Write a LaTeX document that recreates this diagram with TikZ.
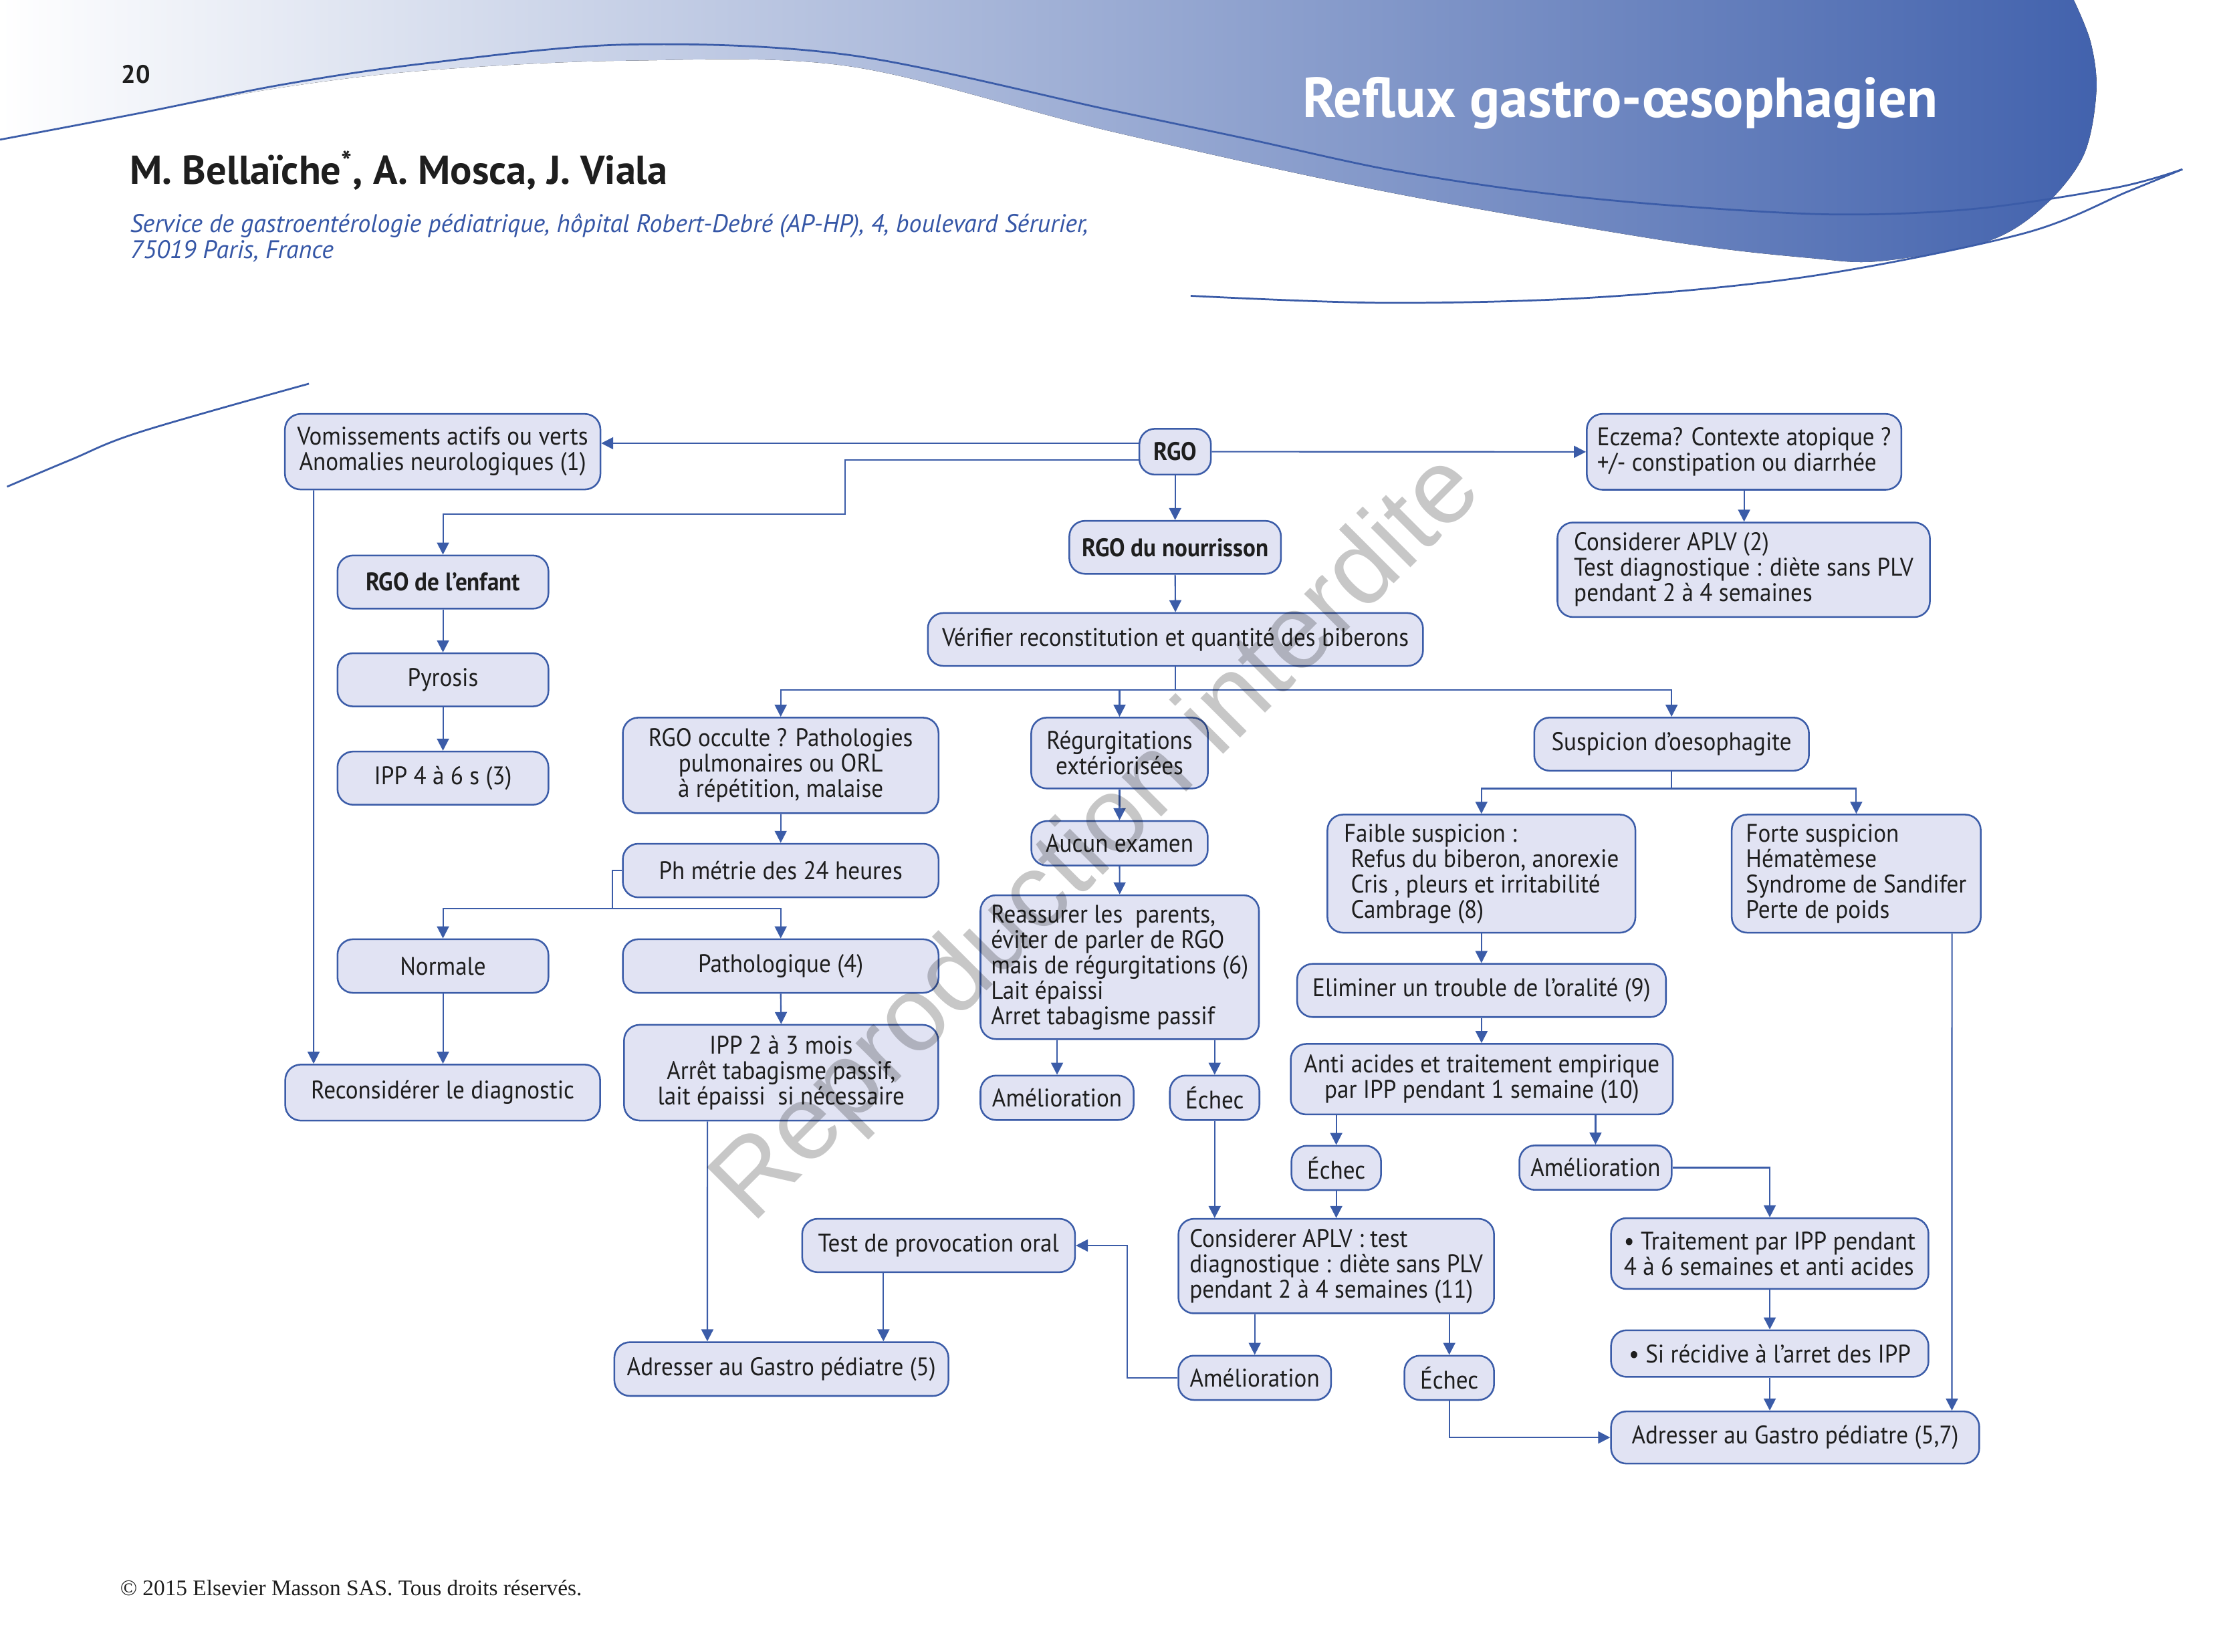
\documentclass[tikz,border=0pt]{standalone}
\usepackage{fontspec}
\setmainfont{PT Sans}[FakeStretch=0.925]
\newfontfamily\hdrfont{PT Sans}
\newfontfamily\footfont{Liberation Serif}
\newfontfamily\wmfont{Liberation Sans}
\usetikzlibrary{arrows.meta}
\definecolor{boxfill}{HTML}{E1E3F3}
\definecolor{boxline}{HTML}{3B5CA8}
\definecolor{lineblue}{HTML}{3B5CA8}
\definecolor{hdrblue}{HTML}{4262AD}
\definecolor{affil}{HTML}{3556A6}
\definecolor{txt}{HTML}{1E1E1E}
\begin{document}
\begin{tikzpicture}[x=1pt,y=-1pt,
  box/.style={draw=boxline, fill=boxfill, line width=1.2pt, rounded corners=11pt, inner sep=0pt,
    align=center, text=txt, font=\fontsize{18}{18}\selectfont},
  lbox/.style={box, align=left},
  sz/.style 2 args={minimum width=#1pt, minimum height=#2pt},
  conn/.style={draw=lineblue, line width=1pt, -{Triangle[length=8.5pt,width=8.5pt]}},
  plainline/.style={draw=lineblue, line width=1pt},
  hdrline/.style={draw=lineblue, line width=1.3pt}]
\useasboundingbox (0,0) rectangle (1568.7,1170.6);
\fill[white] (0,0) rectangle (1568.7,1170.6);
% header band
\fill[left color=white, right color=hdrblue] (0,0) -- plot[smooth, tension=0.55] coordinates {(0,99) (100,80) (200,62) (301,50) (444,43) (602,47) (787,93) (983,136) (1183,171) (1284,183) (1334,185) (1409,171) (1449,146) (1477,110) (1486,65) (1482,30) (1470,0)} -- cycle;
\draw[hdrline] plot[smooth, tension=0.55] coordinates {(0,99) (100,80) (200,60) (301,45) (444,31.6) (602,39) (787,78) (882,98) (983,120) (1083,135.5) (1183,145.5) (1300,152) (1400,148) (1500,133) (1547,120)};
\draw[hdrline] plot[smooth, tension=0.55] coordinates {(844,209.7) (983,214.7) (1133,210.7) (1284,195.7) (1434,165.6) (1509,135.5) (1547,120)};
\draw[hdrline] plot[smooth, tension=0.6] coordinates {(5,345) (50,326) (100,306) (219,272)};
\node[anchor=base west, inner sep=0pt, font=\hdrfont\bfseries\fontsize{18}{18}\selectfont, text=txt] (pnum) at (86,59) {20};
\node[anchor=base west, inner sep=0pt, font=\hdrfont\bfseries\fontsize{40}{40}\selectfont, text=white] (title) at (923,83) {Reflux gastro-œsophagien};
\node[anchor=base west, inner sep=0pt, font=\hdrfont\bfseries\fontsize{28.6}{29}\selectfont, text=txt] (auth) at (92,130.4) {M. Bellaïche\textsuperscript{*}, A. Mosca, J. Viala};
\node[anchor=base west, inner sep=0pt, font=\hdrfont\itshape\fontsize{18}{18}\selectfont, text=affil] (aff1) at (92,164.6) {Service de gastroentérologie pédiatrique, hôpital Robert-Debré (AP-HP), 4, boulevard Sérurier,};
\node[anchor=base west, inner sep=0pt, font=\hdrfont\itshape\fontsize{18}{18}\selectfont, text=affil] (aff2) at (92,183) {75019 Paris, France};
\node[anchor=base west, inner sep=0pt, font=\footfont\fontsize{15.8}{16}\selectfont, text=txt] (foot) at (85,1131) {© 2015 Elsevier Masson SAS. Tous droits réservés.};
% boxes
\node[box, sz={223.6}{53.5}] (vom) at (313.8,320.2) {Vomissements actifs ou verts\\Anomalies neurologiques (1)};
\node[box, sz={50.7}{32.5}, font=\bfseries\fontsize{18}{18}\selectfont] (rgo) at (833,320.2) {RGO};
\node[lbox, sz={223}{53.7}] (ecz) at (1236.3,320.3) {Eczema? Contexte atopique ?\\+/- constipation ou diarrhée};
\node[lbox, sz={264}{67}] (aplv2) at (1236,403.9) {Considerer APLV (2)\\Test diagnostique : diète sans PLV\\pendant 2 à 4 semaines};
\node[box, sz={150}{37.5}, font=\bfseries\fontsize{18}{18}\selectfont] (rgonour) at (833,388) {RGO du nourrisson};
\node[box, sz={351}{37.5}] (verif) at (833.2,453.3) {Vérifier reconstitution et quantité des biberons};
\node[box, sz={149.5}{37.7}, font=\bfseries\fontsize{18}{18}\selectfont] (rgoenf) at (314,412.6) {RGO de l’enfant};
\node[box, sz={149.5}{37.7}] (pyrosis) at (314,481.9) {Pyrosis};
\node[box, sz={149.5}{37.7}] (ipp46) at (314,551.6) {IPP 4 à 6 s (3)};
\node[box, sz={223.8}{67.8}] (occulte) at (553.4,542.6) {RGO occulte ? Pathologies\\pulmonaires ou ORL\\à répétition, malaise};
\node[box, sz={125.2}{50.2}] (regurg) at (793.6,533.8) {Régurgitations\\extériorisées};
\node[box, sz={194.7}{37.7}] (suspoes) at (1184.9,527.5) {Suspicion d’oesophagite};
\node[box, sz={223.8}{38}] (phmetrie) at (553.4,617.1) {Ph métrie des 24 heures};
\node[box, sz={125}{31.5}] (aucun) at (793.6,597.8) {Aucun examen};
\node[lbox, sz={218.3}{83.7}] (faible) at (1050.1,619.3) {Faible suspicion :\\\hspace*{5pt}Refus du biberon, anorexie\\\hspace*{5pt}Cris , pleurs et irritabilité\\\hspace*{5pt}Cambrage (8)};
\node[lbox, sz={176.5}{83.7}] (forte) at (1315.8,619.3) {Forte suspicion\\Hématèmese\\Syndrome de Sandifer\\Perte de poids};
\node[box, sz={149.5}{38}] (normale) at (314,684.8) {Normale};
\node[box, sz={223.8}{38}] (patho) at (553.4,684.8) {Pathologique (4)};
\node[lbox, sz={197.4}{102}] (reassurer) at (793.7,685.6) {Reassurer les\ \ parents,\\éviter de parler de RGO\\mais de régurgitations (6)\\Lait épaissi\\Arret tabagisme passif};
\node[box, sz={261.4}{37.7}] (elim) at (1050.2,702.1) {Eliminer un trouble de l’oralité (9)};
\node[box, sz={223.2}{39.7}] (reconsid) at (313.8,774.5) {Reconsidérer le diagnostic};
\node[box, sz={222.7}{67.8}] (ipp23) at (553.7,760.4) {IPP 2 à 3 mois\\Arrêt tabagisme passif,\\lait épaissi\ \ si nécessaire};
\node[box, sz={108.6}{31.5}] (amel1) at (749.3,778.2) {Amélioration};
\node[box, sz={63.5}{31.5}] (echec1) at (861,778.2) {Échec};
\node[box, sz={270.9}{50}] (antiac) at (1050.4,765) {Anti acides et traitement empirique\\par IPP pendant 1 semaine (10)};
\node[box, sz={63.5}{31.4}] (echec2) at (947.2,827.9) {Échec};
\node[box, sz={108}{31.5}] (amel2) at (1131,827.7) {Amélioration};
\node[box, sz={193.4}{37.8}] (testprov) at (665.3,882.9) {Test de provocation oral};
\node[lbox, sz={223.7}{67}] (aplv11) at (947.2,897.5) {Considerer APLV : test\\diagnostique : diète sans PLV\\pendant 2 à 4 semaines (11)};
\node[lbox, sz={225}{50.2}] (trait) at (1254.5,888.6) {• Traitement par IPP pendant\\4 à 6 semaines et anti acides};
\node[box, sz={236.8}{38.1}] (gastro5) at (553.9,970.5) {Adresser au Gastro pédiatre (5)};
\node[box, sz={108.2}{31.4}] (amel3) at (889.4,976.7) {Amélioration};
\node[box, sz={63.5}{31.4}] (echec3) at (1027.3,976.7) {Échec};
\node[box, sz={225}{33}] (recid) at (1254.5,959.5) {• Si récidive à l’arret des IPP};
\node[box, sz={261}{37}] (gastro57) at (1272.5,1019) {Adresser au Gastro pédiatre (5,7)};
% connectors
\coordinate (r1) at ([yshift=6pt]rgo.west);
\coordinate (r2) at ([yshift=-6pt]rgo.west);
\draw[conn] (r1) -- (r1 -| vom.east);
\draw[conn] (r2) -| (599,364.6) -| (rgoenf.north);
\draw[conn] (rgo.east) -- (ecz.west);
\draw[conn] (rgo.south) -- (rgonour.north);
\draw[conn] (ecz.south) -- (ecz.south |- aplv2.north);
\draw[conn] (rgonour.south) -- (verif.north);
\coordinate (b1) at (833.2,489);
\draw[plainline] (verif.south) -- (b1);
\draw[conn] (b1) -| (occulte.north);
\draw[conn] (b1) -| (regurg.north);
\draw[conn] (b1) -| (suspoes.north);
\draw[conn] ([xshift=20.9pt]vom.south west) -- ([xshift=20.7pt]reconsid.north west);
\draw[conn] (rgoenf.south) -- (pyrosis.north);
\draw[conn] (pyrosis.south) -- (ipp46.north);
\draw[conn] (occulte.south) -- (phmetrie.north);
\coordinate (b2) at (434,644);
\draw[plainline] (phmetrie.west) -| (b2);
\draw[conn] (b2) -| (normale.north);
\draw[conn] (b2) -| (patho.north);
\draw[conn] (normale.south) -- (normale.south |- reconsid.north);
\draw[conn] (patho.south) -- (ipp23.north);
\draw[conn] ([xshift=59.7pt]ipp23.south west) -- ([xshift=66.5pt]gastro5.north west);
\draw[conn] ([xshift=58.2pt]testprov.south west) -- ([xshift=191.3pt]gastro5.north west);
\draw[conn] (regurg.south) -- (aucun.north);
\draw[conn] (aucun.south) -- (reassurer.north);
\draw[conn] (reassurer.south -| amel1.north) -- (amel1.north);
\draw[conn] (reassurer.south -| echec1.north) -- (echec1.north);
\draw[conn] (echec1.south) -- (echec1.south |- aplv11.north);
\coordinate (b3) at (1184.9,559);
\draw[plainline] (suspoes.south) -- (b3);
\draw[conn] (b3) -| (faible.north);
\draw[conn] (b3) -| (forte.north);
\draw[conn] (faible.south) -- (faible.south |- elim.north);
\draw[conn] (elim.south) -- (elim.south |- antiac.north);
\draw[conn] (antiac.south -| echec2.north) -- (echec2.north);
\draw[conn] (antiac.south -| amel2.north) -- (amel2.north);
\draw[conn] (echec2.south) -- (echec2.south |- aplv11.north);
\draw[conn] (amel2.east) -| (trait.north);
\draw[conn] (trait.south) -- (recid.north);
\draw[conn] (recid.south) -- (recid.south |- gastro57.north);
\draw[conn] ([xshift=-21pt]forte.south east) -- ([xshift=-20pt]gastro57.north east);
\draw[conn] (aplv11.south -| amel3.north) -- (amel3.north);
\draw[conn] (aplv11.south -| echec3.north) -- (echec3.north);
\draw[conn] (amel3.west) -| (799,882.9) -- (testprov.east);
\draw[conn] (echec3.south) |- (gastro57.west);
% watermark
\node[rotate=45, anchor=base, inner sep=0pt, font=\wmfont\fontsize{75}{75}\selectfont, text=black, text opacity=0.22] (wm) at (793,609) {Reproduction interdite};
\end{tikzpicture}
\end{document}
